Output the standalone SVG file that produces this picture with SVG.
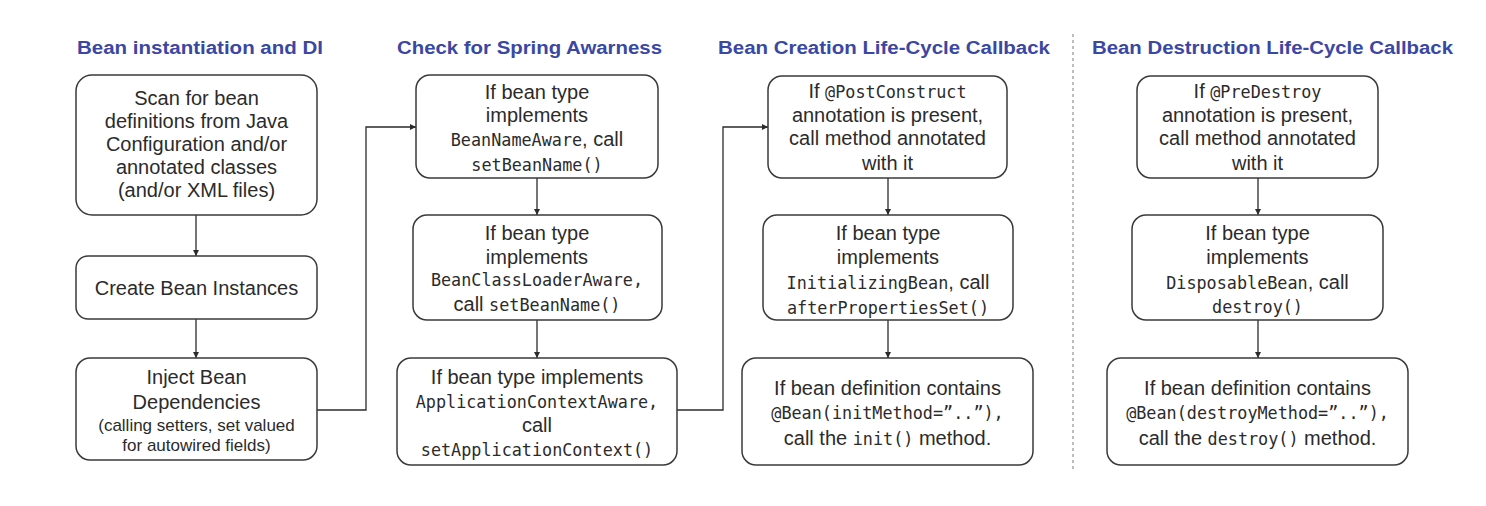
<svg xmlns="http://www.w3.org/2000/svg" width="1486" height="506" viewBox="0 0 1486 506">
<style>
.title{font-family:"Liberation Sans",Arial,sans-serif;font-weight:bold;font-size:18px;fill:#3a47a3}
.box{fill:#fff;stroke:#3a3a3a;stroke-width:1.5}
.t{font-family:"Liberation Sans",Arial,sans-serif;font-size:20px;fill:#2b2b2b;text-anchor:middle}
.s{font-size:17px}
.m{font-family:"DejaVu Sans Mono","Liberation Mono",monospace;font-size:16.8px}
.conn{fill:none;stroke:#2b2b2b;stroke-width:1.3}
.sep{stroke:#a8a8a8;stroke-width:1.5;stroke-dasharray:3 3}
</style>
<defs>
<marker id="arr" viewBox="0 0 8 8" refX="8" refY="4" markerWidth="6" markerHeight="6" orient="auto" markerUnits="userSpaceOnUse">
<path d="M0,0 L8,4 L0,8 z" fill="#2b2b2b"/>
</marker>
</defs>
<rect width="1486" height="506" fill="#fff"/>

<g id="titles">
<text class="title" x="77" y="54" textLength="246" lengthAdjust="spacingAndGlyphs">Bean instantiation and DI</text>
<text class="title" x="397" y="54" textLength="265" lengthAdjust="spacingAndGlyphs">Check for Spring Awarness</text>
<text class="title" x="718" y="54" textLength="332" lengthAdjust="spacingAndGlyphs">Bean Creation Life-Cycle Callback</text>
<text class="title" x="1092" y="54" textLength="361" lengthAdjust="spacingAndGlyphs">Bean Destruction Life-Cycle Callback</text>
</g>

<line class="sep" x1="1073" y1="34" x2="1073" y2="472"/>

<g id="connectors">
<path class="conn" d="M196,215 V256" marker-end="url(#arr)"/>
<path class="conn" d="M196,319 V358" marker-end="url(#arr)"/>
<path class="conn" d="M317,410 H366 V127 H416" marker-end="url(#arr)"/>
<path class="conn" d="M537,178 V215" marker-end="url(#arr)"/>
<path class="conn" d="M537,320 V358" marker-end="url(#arr)"/>
<path class="conn" d="M677,410 H723 V127 H768" marker-end="url(#arr)"/>
<path class="conn" d="M888,178 V215" marker-end="url(#arr)"/>
<path class="conn" d="M888,320 V358" marker-end="url(#arr)"/>
<path class="conn" d="M1258,178 V215" marker-end="url(#arr)"/>
<path class="conn" d="M1258,320 V358" marker-end="url(#arr)"/>
</g>

<g id="scan">
<rect class="box" x="76" y="75" width="241" height="140" rx="16"/>
<text class="t" x="196.5" y="105">Scan for bean</text>
<text class="t" x="196.5" y="128">definitions from Java</text>
<text class="t" x="196.5" y="151">Configuration and/or</text>
<text class="t" x="196.5" y="174">annotated classes</text>
<text class="t" x="196.5" y="197">(and/or XML files)</text>
</g>

<g id="create">
<rect class="box" x="76" y="256" width="241" height="63" rx="12"/>
<text class="t" x="196.5" y="295">Create Bean Instances</text>
</g>

<g id="inject">
<rect class="box" x="76" y="358" width="241" height="102" rx="14"/>
<text class="t" x="196.5" y="384">Inject Bean</text>
<text class="t" x="196.5" y="409">Dependencies</text>
<text class="t s" x="196.5" y="431">(calling setters, set valued</text>
<text class="t s" x="196.5" y="451">for autowired fields)</text>
</g>

<g id="beanNameAware">
<rect class="box" x="416" y="75" width="242" height="103" rx="14"/>
<text class="t" x="537" y="99">If bean type</text>
<text class="t" x="537" y="122">implements</text>
<text class="t" x="537" y="146"><tspan class="m">BeanNameAware</tspan>, call</text>
<text class="t m" x="537" y="171">setBeanName()</text>
</g>

<g id="beanClassLoaderAware">
<rect class="box" x="413" y="215" width="249" height="105" rx="14"/>
<text class="t" x="537" y="240">If bean type</text>
<text class="t" x="537" y="264">implements</text>
<text class="t m" x="537" y="286">BeanClassLoaderAware,</text>
<text class="t" x="537" y="311">call <tspan class="m">setBeanName()</tspan></text>
</g>

<g id="applicationContextAware">
<rect class="box" x="397" y="358" width="280" height="107" rx="14"/>
<text class="t" x="537" y="384">If bean type implements</text>
<text class="t m" x="537" y="408">ApplicationContextAware,</text>
<text class="t" x="537" y="432">call</text>
<text class="t m" x="537" y="456">setApplicationContext()</text>
</g>

<g id="postConstruct">
<rect class="box" x="768" y="76" width="239" height="102" rx="14"/>
<text class="t" x="887.5" y="98">If <tspan class="m">@PostConstruct</tspan></text>
<text class="t" x="887.5" y="122">annotation is present,</text>
<text class="t" x="887.5" y="145">call method annotated</text>
<text class="t" x="887.5" y="170">with it</text>
</g>

<g id="initializingBean">
<rect class="box" x="763" y="215" width="250" height="105" rx="14"/>
<text class="t" x="888" y="240">If bean type</text>
<text class="t" x="888" y="264">implements</text>
<text class="t" x="888" y="289"><tspan class="m">InitializingBean</tspan>, call</text>
<text class="t m" x="888" y="314">afterPropertiesSet()</text>
</g>

<g id="initMethod">
<rect class="box" x="742" y="358" width="291" height="107" rx="14"/>
<text class="t" x="887.5" y="395">If bean definition contains</text>
<text class="t m" x="887.5" y="419">@Bean(initMethod=”..”),</text>
<text class="t" x="887.5" y="445">call the <tspan class="m">init()</tspan> method.</text>
</g>

<g id="preDestroy">
<rect class="box" x="1137" y="76" width="241" height="102" rx="14"/>
<text class="t" x="1257.5" y="98">If <tspan class="m">@PreDestroy</tspan></text>
<text class="t" x="1257.5" y="122">annotation is present,</text>
<text class="t" x="1257.5" y="145">call method annotated</text>
<text class="t" x="1257.5" y="170">with it</text>
</g>

<g id="disposableBean">
<rect class="box" x="1132" y="215" width="251" height="105" rx="14"/>
<text class="t" x="1257.5" y="240">If bean type</text>
<text class="t" x="1257.5" y="264">implements</text>
<text class="t" x="1257.5" y="289"><tspan class="m">DisposableBean</tspan>, call</text>
<text class="t m" x="1257.5" y="313">destroy()</text>
</g>

<g id="destroyMethod">
<rect class="box" x="1107" y="358" width="301" height="107" rx="14"/>
<text class="t" x="1257.5" y="395">If bean definition contains</text>
<text class="t m" x="1257.5" y="419">@Bean(destroyMethod=”..”),</text>
<text class="t" x="1257.5" y="445">call the <tspan class="m">destroy()</tspan> method.</text>
</g>
</svg>
